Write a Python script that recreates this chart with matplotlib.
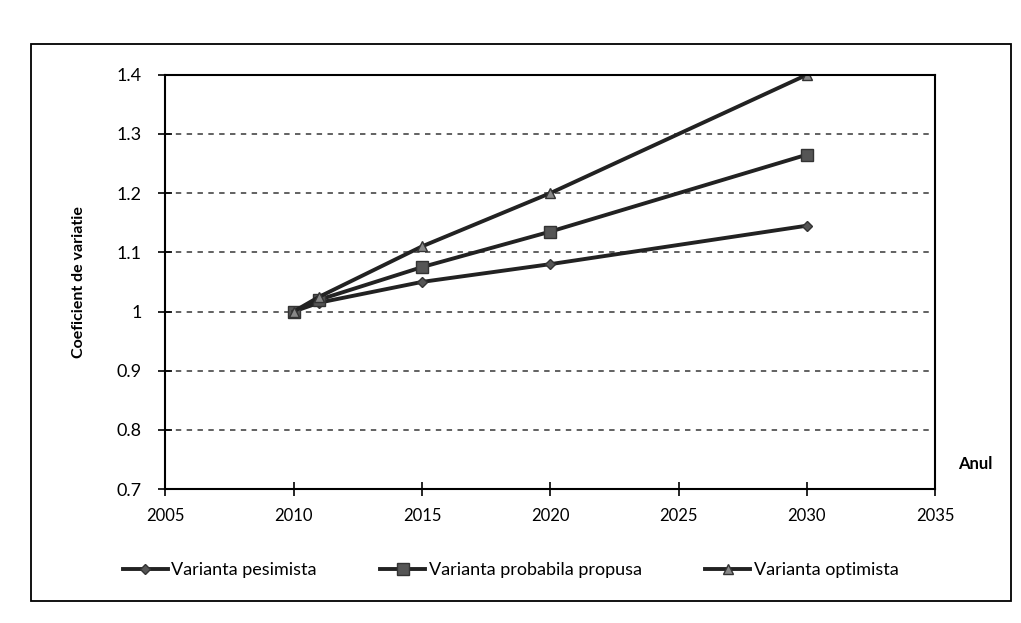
import matplotlib
matplotlib.use("Agg")
import matplotlib.pyplot as plt
from matplotlib.patches import Rectangle

plt.rcParams['font.family'] = ['Lato', 'DejaVu Sans']

years = [2010, 2011, 2015, 2020, 2030]
pesimista = [1.00, 1.015, 1.05, 1.08, 1.145]
probabila = [1.00, 1.02, 1.075, 1.135, 1.265]
optimista = [1.00, 1.025, 1.11, 1.20, 1.40]

labels = ["Varianta pesimista", "Varianta probabila propusa", "Varianta optimista"]
xticks = [2005, 2010, 2015, 2020, 2025, 2030, 2035]
yticks = [0.7, 0.8, 0.9, 1.0, 1.1, 1.2, 1.3, 1.4]
ytick_labels = ["0.7", "0.8", "0.9", "1", "1.1", "1.2", "1.3", "1.4"]

fig = plt.figure(figsize=(10.21, 6.23), dpi=100)
fig.patches.append(Rectangle((0.03, 0.035), 0.96, 0.895, transform=fig.transFigure,
                             fill=False, edgecolor='black', linewidth=1.3))

ax = fig.add_axes([0.162, 0.215, 0.754, 0.665])
line_color = '#222222'
ax.plot(years, pesimista, color=line_color, lw=2.8, marker='D', ms=5,
        markerfacecolor='#555555', markeredgecolor='#333333', label=labels[0])
ax.plot(years, probabila, color=line_color, lw=2.8, marker='s', ms=8,
        markerfacecolor='#555555', markeredgecolor='#333333', label=labels[1])
ax.plot(years, optimista, color=line_color, lw=2.8, marker='^', ms=7,
        markerfacecolor='#888888', markeredgecolor='#333333', label=labels[2])

ax.set_xlim(2005, 2035)
ax.set_ylim(0.7, 1.4)
ax.set_xticks(xticks)
ax.set_xticklabels([str(x) for x in xticks], fontsize=12)
ax.set_yticks(yticks)
ax.set_yticklabels(ytick_labels, fontsize=13)
ax.tick_params(axis='x', direction='inout', length=10, width=1.2, pad=9)
ax.tick_params(axis='y', direction='inout', length=10, width=1.2, pad=12)
for y in yticks[1:-1]:
    ax.axhline(y, color='#555555', lw=1.3, ls=(0, (3, 3)), zorder=0)
for s in ax.spines.values():
    s.set_linewidth(1.5)
    s.set_color('black')

ax.set_ylabel("Coeficient de variatie", fontsize=11.5, fontweight='bold', labelpad=22)
ax.text(1.03, 0.06, "Anul", transform=ax.transAxes, fontsize=12,
        fontweight='bold', ha='left', va='center')

fig.legend(loc='center', bbox_to_anchor=(0.5, 0.085), ncol=3, frameon=False,
           fontsize=13, handlelength=2.5, columnspacing=3.5, handletextpad=0.2)

fig.savefig("out.png", dpi=100)
